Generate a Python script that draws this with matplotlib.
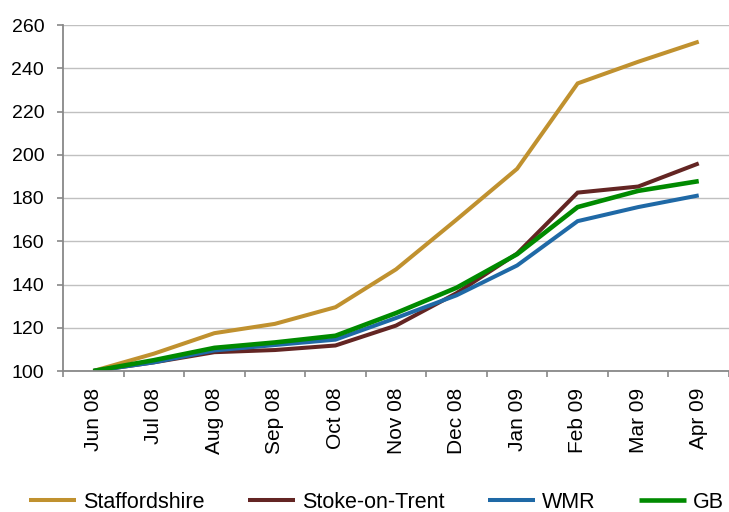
import matplotlib
matplotlib.use("Agg")
import matplotlib.pyplot as plt

months = ["Jun 08", "Jul 08", "Aug 08", "Sep 08", "Oct 08", "Nov 08",
          "Dec 08", "Jan 09", "Feb 09", "Mar 09", "Apr 09"]
staffordshire = [100, 108, 117.5, 121.8, 129.5, 147, 170, 193.5, 233, 243, 252.3]
stoke = [100, 104, 108.7, 109.7, 111.8, 121, 136, 154.3, 182.5, 185.3, 196]
wmr = [100, 104, 109.5, 112, 114.5, 124.5, 135, 148.8, 169.3, 175.8, 181.2]
gb = [100, 105, 110.7, 113.2, 116.3, 126.8, 138.5, 154, 175.8, 183.3, 187.8]

series_names = ["Staffordshire", "Stoke-on-Trent", "WMR", "GB"]
colors = ["#C0912F", "#632523", "#1F69A6", "#008A00"]
widths = [2.9, 2.9, 2.9, 3.3]

plt.rcParams['font.family'] = ['Liberation Sans', 'DejaVu Sans']

fig = plt.figure(figsize=(7.29, 5.12), dpi=100)
ax = fig.add_axes([63/729, 1-371/512, 1-63/729, (371-25)/512])

x = list(range(len(months)))
for vals, name, c, w in zip([staffordshire, stoke, wmr, gb], series_names, colors, widths):
    ax.plot(x, vals, color=c, lw=w, label=name, solid_capstyle='butt', solid_joinstyle='miter')

ax.set_ylim(100, 260)
ax.set_yticks(range(100, 261, 20))
ax.set_xlim(-0.5, 10.43)
ax.set_xticks(x)
ax.set_xticklabels(months, rotation=90, ha='center', va='top')
ax.set_xticks([i - 0.5 for i in range(len(months) + 1)], minor=True)

ax.grid(axis='y', color='#C0C0C0', lw=1.0)
ax.set_axisbelow(True)
for s in ['top', 'right']:
    ax.spines[s].set_visible(False)
for s in ['left', 'bottom']:
    ax.spines[s].set_color('#888888')
    ax.spines[s].set_linewidth(1.3)

ax.tick_params(axis='y', labelsize=14, length=4.5, width=1.2, color='#888888', pad=9)
ax.tick_params(axis='x', which='major', labelsize=15, length=0, pad=12)
ax.tick_params(axis='x', which='minor', length=4.5, width=1.2, color='#888888')

fig.legend(loc='center left', bbox_to_anchor=(29/729, 1-502/512), ncol=4,
           frameon=False, borderpad=0, borderaxespad=0, handlelength=2.19,
           handletextpad=0.33, columnspacing=2.0, fontsize=15.5)

fig.savefig("out.png", dpi=100)
